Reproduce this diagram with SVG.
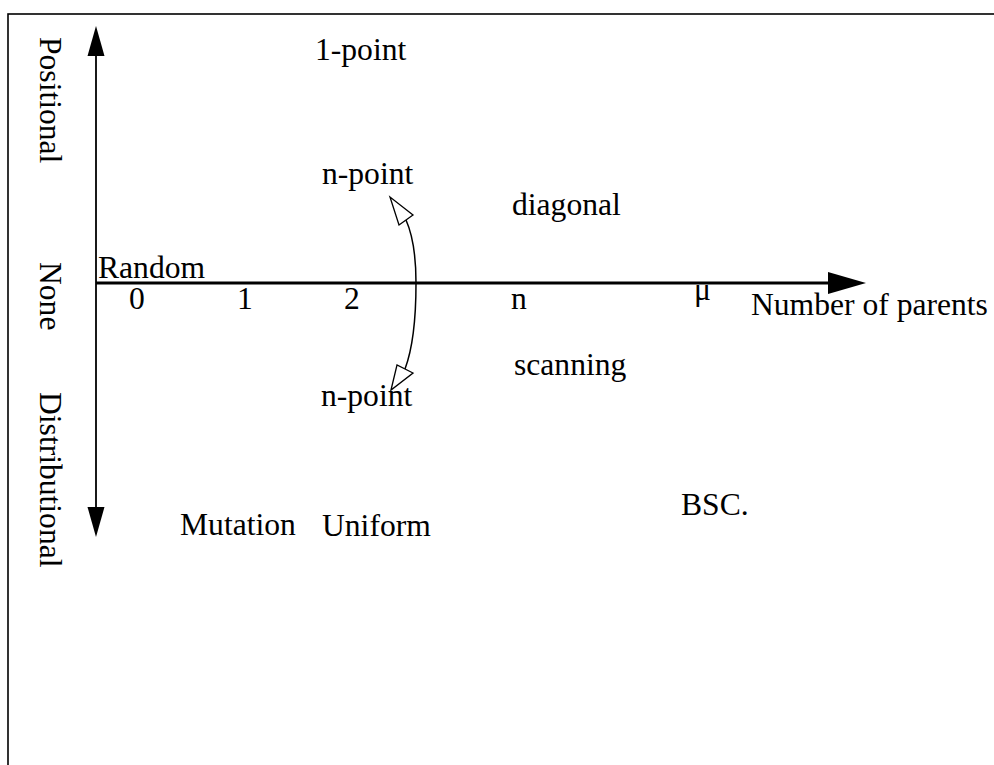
<svg xmlns="http://www.w3.org/2000/svg" width="994" height="765" viewBox="0 0 994 765">
<style>
text{font-family:"Liberation Serif","Times New Roman",serif;font-size:31.6px;fill:#000}
.ax{stroke:#000;fill:none}
.open{fill:#fff;stroke:#000;stroke-width:1.3}
</style>
<rect x="0" y="0" width="994" height="765" fill="#fff"/>
<rect x="8" y="14" width="1000" height="800" fill="none" stroke="#000" stroke-width="1.6"/>
<g id="connectors">
<line class="ax" x1="96" y1="54" x2="96" y2="509" stroke-width="1.8"/>
<polygon points="96,26 87.5,56 104.5,56" fill="#000"/>
<polygon points="96,537 87.5,507 104.5,507" fill="#000"/>
<line class="ax" x1="96" y1="283" x2="830" y2="283" stroke-width="2.8"/>
<polygon points="866,283 828,272 828,294" fill="#000"/>
<path class="ax" stroke-width="1.5" d="M406,220 C414,238 416,258 416,283 C416,312 414,345 405,369"/>
<polygon class="open" points="390,197 399,225 413,215"/>
<polygon class="open" points="391,390 397,365 413,373"/>
</g>
<g id="axis-labels">
<text transform="translate(40,37) rotate(90)">Positional</text>
<text transform="translate(40,262) rotate(90)">None</text>
<text transform="translate(40,392) rotate(90)">Distributional</text>
<text x="98" y="278">Random</text>
<text x="129" y="309">0</text>
<text x="237" y="309">1</text>
<text x="344" y="309">2</text>
<text x="511" y="309">n</text>
<text x="694" y="300">μ</text>
<text x="751" y="315">Number of parents</text>
</g>
<g id="node-1point"><text x="315" y="60">1-point</text></g>
<g id="node-npoint-top"><text x="322" y="184">n-point</text></g>
<g id="node-npoint-bottom"><text x="321" y="406">n-point</text></g>
<g id="node-diagonal"><text x="512" y="215">diagonal</text></g>
<g id="node-scanning"><text x="514" y="375">scanning</text></g>
<g id="node-bsc"><text x="681" y="515">BSC.</text></g>
<g id="node-mutation"><text x="180" y="535">Mutation</text></g>
<g id="node-uniform"><text x="322" y="536">Uniform</text></g>
</svg>
